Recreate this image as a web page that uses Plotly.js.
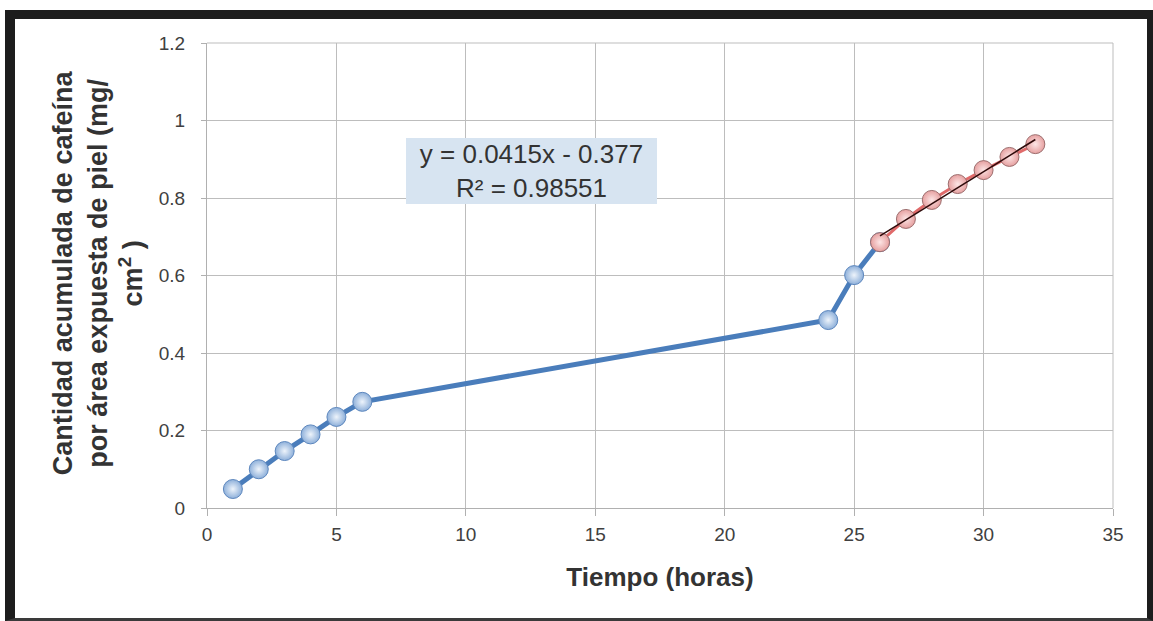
<!DOCTYPE html>
<html>
<head>
<meta charset="utf-8">
<script src="https://cdn.plot.ly/plotly-3.0.1.min.js"></script>
<style>
  html, body { margin: 0; padding: 0; background: #ffffff; }
  #wrap { position: relative; width: 1153px; height: 621px; overflow: hidden; }
  #chart { position: absolute; left: 0; top: 0; width: 1153px; height: 621px; }
  #frame {
    position: absolute; left: 5px; top: 10px; right: 0; bottom: 0;
    box-sizing: border-box; pointer-events: none;
    border-left: 10px solid #1d1d1d; border-top: 9px solid #1d1d1d;
    border-right: 6px solid #1d1d1d; border-bottom: 3px solid #3a3a3a;
  }
</style>
</head>
<body>
<div id="wrap">
  <div id="chart"></div>
  <div id="frame"></div>
</div>
<script>
// Tiempo de exposición (horas) y cafeína acumulada (mg/cm²)
const tiempo  = [1, 2, 3, 4, 5, 6, 24, 25, 26, 27, 28, 29, 30, 31, 32];
const cafeina = [0.049, 0.100, 0.147, 0.190, 0.235, 0.274, 0.485, 0.601,
                 0.686, 0.746, 0.795, 0.836, 0.872, 0.906, 0.939];

// Tramo lineal (estado estacionario): desde la hora 26
const inicioTramo = 8;

// Recta de ajuste del tramo lineal
const pendiente = 0.0415;
const intercepto = -0.377;
const r2 = 0.98551;

const xTicks = [0, 5, 10, 15, 20, 25, 30, 35];
const yTicks = [0, 0.2, 0.4, 0.6, 0.8, 1, 1.2];
const yTickText = ['0', '0.2', '0.4', '0.6', '0.8', '1', '1.2'];

const FONT = '"Liberation Sans", Arial, Helvetica, sans-serif';

const tiempoTotal = tiempo.slice(0, inicioTramo + 1);
const cafeinaTotal = cafeina.slice(0, inicioTramo + 1);
const tiempoTramo = tiempo.slice(inicioTramo);
const cafeinaTramo = cafeina.slice(inicioTramo);

const xAjuste = [tiempoTramo[0], tiempoTramo[tiempoTramo.length - 1]];
const yAjuste = xAjuste.map(x => pendiente * x + intercepto);

const traces = [
  {
    x: tiempoTotal, y: cafeinaTotal, type: 'scatter', mode: 'lines+markers',
    line: { color: '#4a7dbb', width: 5 },
    marker: {
      size: 19, color: '#8eb0da',
      gradient: { type: 'radial', color: '#eef4fb' },
      line: { color: '#5d87be', width: 1 }
    },
    hoverinfo: 'x+y'
  },
  {
    x: tiempoTramo, y: cafeinaTramo, type: 'scatter', mode: 'lines+markers',
    line: { color: '#e06a6a', width: 3 },
    marker: {
      size: 19, color: '#e6a0a0',
      gradient: { type: 'radial', color: '#fde6e6' },
      line: { color: '#9c6e6e', width: 1 }
    },
    hoverinfo: 'x+y'
  },
  {
    x: xAjuste, y: yAjuste, type: 'scatter', mode: 'lines',
    line: { color: '#2e0a0a', width: 1.5 },
    hoverinfo: 'skip'
  }
];

const layout = {
  width: 1153, height: 621,
  margin: { l: 207, r: 40, t: 43, b: 113 },
  paper_bgcolor: '#ffffff', plot_bgcolor: '#ffffff',
  showlegend: false,
  font: { family: FONT, color: '#404040', size: 19 },
  xaxis: {
    range: [0, 35], tickvals: xTicks, ticktext: xTicks.map(String),
    showgrid: true, gridcolor: '#bdbdbd', gridwidth: 1,
    showline: true, linecolor: '#b0b0b0', linewidth: 1, mirror: false,
    zeroline: false,
    ticks: 'outside', ticklen: 7, tickcolor: '#b0b0b0',
    ticklabelstandoff: 2,
    tickfont: { family: FONT, size: 19, color: '#404040' },
    title: {
      text: 'Tiempo (horas)', standoff: 24,
      font: { family: FONT, size: 26, color: '#333333', weight: 'bold' }
    },
    automargin: false, fixedrange: true
  },
  yaxis: {
    range: [0, 1.2], tickvals: yTicks, ticktext: yTickText,
    showgrid: true, gridcolor: '#bdbdbd', gridwidth: 1,
    showline: true, linecolor: '#b0b0b0', linewidth: 1,
    zeroline: false,
    ticks: 'outside', ticklen: 5, tickcolor: '#b0b0b0',
    ticklabelstandoff: 12,
    tickfont: { family: FONT, size: 19, color: '#404040' },
    automargin: false, fixedrange: true
  },
  shapes: [
    // bordes superior y derecho del área de trazado
    { type: 'line', xref: 'paper', yref: 'paper', x0: 0, x1: 1, y0: 1, y1: 1,
      line: { color: '#bdbdbd', width: 1 } },
    { type: 'line', xref: 'paper', yref: 'paper', x0: 1, x1: 1, y0: 0, y1: 1,
      line: { color: '#bdbdbd', width: 1 } }
  ],
  annotations: [
    {
      xref: 'paper', yref: 'paper', x: -0.1203, y: 0.505,
      xanchor: 'center', yanchor: 'middle', textangle: -90, showarrow: false,
      text: 'Cantidad acumulada de cafeína<br>por área expuesta de piel (mg/<br>cm<sup>2</sup> )',
      font: { family: FONT, size: 27, color: '#333333', weight: 'bold' }
    },
    {
      xref: 'paper', yref: 'paper', x: 0.3587, y: 0.7258,
      xanchor: 'center', yanchor: 'middle', showarrow: false,
      width: 249, height: 64, borderpad: 1,
      bgcolor: '#d7e4f1', borderwidth: 0,
      text: 'y = ' + pendiente + 'x - ' + Math.abs(intercepto) + '<br>R² = ' + r2,
      font: { family: FONT, size: 26, color: '#333333' }
    }
  ]
};

Plotly.newPlot('chart', traces, layout, { displayModeBar: false, staticPlot: true });
</script>
</body>
</html>
